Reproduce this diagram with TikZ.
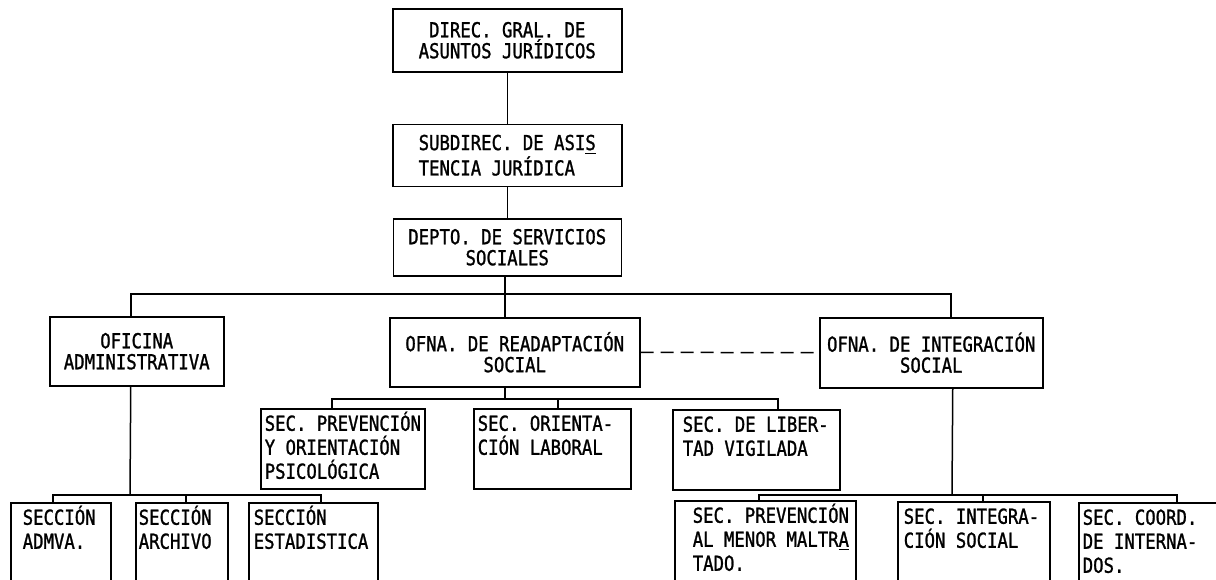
\documentclass[tikz,border=0pt]{standalone}
\usepackage{fontspec}
\usetikzlibrary{positioning}
\newfontfamily\orgfont[FakeStretch=0.84, FakeBold=1.2]{DejaVu Sans Mono}
\newdimen\px \px=0.5pt
% text of a section box: width, height, indent (in px), lines
\newcommand{\sectxt}[4]{\parbox[t][#2\px][t]{#1\px}{\raggedright\leftskip=#3\px\rule{0pt}{11pt}#4}}
\tikzset{
  dep/.style 2 args={
    draw, line width=.75pt, inner sep=0pt, align=center,
    minimum width=#1*0.5pt, minimum height=#2*0.5pt,
    font=\orgfont\fontsize{10.3}{10.5}\selectfont
  },
  sec/.style={
    draw, line width=.75pt, inner sep=0pt, anchor=north west,
    font=\orgfont\fontsize{10.3}{12}\selectfont
  },
  link/.style={line width=.75pt},
  rel/.style={line width=.75pt, dash pattern=on 6.5pt off 3.5pt}
}

\begin{document}
\begin{tikzpicture}[x=0.5pt, y=-0.5pt]
  \useasboundingbox (0,0) rectangle (1216,579);
  \clip (0,0) rectangle (1216,579);

  % Direction chain
  \node[dep={229}{63}, anchor=north west] (direc) at (392,8) {DIREC. GRAL. DE\\ASUNTOS JURÍDICOS};
  \node[dep={229}{62}, below=25.5pt of direc, align=left] (subdirec) {SUBDIREC. DE ASI\underline{S}\\TENCIA JURÍDICA};
  \node[dep={228}{57}, below=15.5pt of subdirec] (depto) {DEPTO. DE SERVICIOS\\SOCIALES};

  % Offices
  \node[dep={174}{69}, anchor=north west] (ofadm) at (49,316) {OFICINA\\ADMINISTRATIVA};
  \node[dep={250}{69}, anchor=north west] (ofread) at (389,317) {OFNA. DE READAPTACIÓN\\SOCIAL};
  \node[dep={223}{70}, anchor=north west] (ofint) at (819,317) {OFNA. DE INTEGRACIÓN\\SOCIAL};

  % Sections under readaptacion
  \node[sec] (prevpsi) at (260,408) {\sectxt{164}{80}{4}{SEC. PREVENCIÓN\\Y ORIENTACIÓN\\PSICOLÓGICA}};
  \node[sec] (orient) at (473,408) {\sectxt{157}{80}{4}{SEC. ORIENTA-\\CIÓN LABORAL}};
  \node[sec] (libert) at (672,409) {\sectxt{167}{80}{10}{SEC. DE LIBER-\\TAD VIGILADA}};

  % Sections under oficina administrativa
  \node[sec] (admva) at (10,502) {\sectxt{100}{100}{12}{SECCIÓN\\ADMVA.}};
  \node[sec] (archivo) at (135,502) {\sectxt{92}{100}{3}{SECCIÓN\\ARCHIVO}};
  \node[sec] (estad) at (248,502) {\sectxt{129}{100}{5}{SECCIÓN\\ESTADISTICA}};

  % Sections under integracion
  \node[sec] (prevmen) at (674,500) {\sectxt{181}{100}{18}{SEC. PREVENCIÓN\\AL MENOR MALTR\underline{A}\\TADO.}};
  \node[sec] (integsoc) at (897,501) {\sectxt{152}{100}{6}{SEC. INTEGRA-\\CIÓN SOCIAL}};
  \node[sec] (coord) at (1078,502) {\sectxt{160}{100}{4}{SEC. COORD.\\DE INTERNA-\\DOS.}};

  % Buses
  \coordinate (busA) at (505,294);
  \coordinate (busB) at (505,399);
  \coordinate (busC) at (130,495);
  \coordinate (busD) at (952,495);

  \draw[link] (direc) -- (subdirec);
  \draw[link] (subdirec) -- (subdirec |- depto.north);
  \draw[link] (depto.south -| busA) -- (busA);
  \draw[link] ([xshift=-3pt]ofadm.north) |- (busA) -| ([xshift=9.75pt]ofint.north);
  \draw[link] (busA) -- (ofread.north -| busA);

  \draw[link] (ofread.south -| busB) -- (busB);
  \draw[link] ([xshift=-5.5pt]prevpsi.north) |- (busB) -| ([xshift=10.75pt]libert.north);
  \draw[link] ([xshift=2.75pt]orient.north) -- ([xshift=2.75pt]orient.north |- busB);

  \draw[link] ([xshift=-3pt]ofadm.south) -- (busC);
  \draw[link] ([xshift=-4pt]admva.north) |- (busC) -| ([xshift=3.75pt]estad.north);
  \draw[link] ([xshift=2pt]archivo.north) -- ([xshift=2pt]archivo.north |- busC);

  \draw[link] ([xshift=10.75pt]ofint.south) -- (busD);
  \draw[link] ([xshift=-3.25pt]prevmen.north) |- (busD) -| ([xshift=9pt]coord.north);
  \draw[link] ([xshift=4.5pt]integsoc.north) -- ([xshift=4.5pt]integsoc.north |- busD);

  % Dashed relation
  \draw[rel] (ofread) -- (ofint);
\end{tikzpicture}
\end{document}
